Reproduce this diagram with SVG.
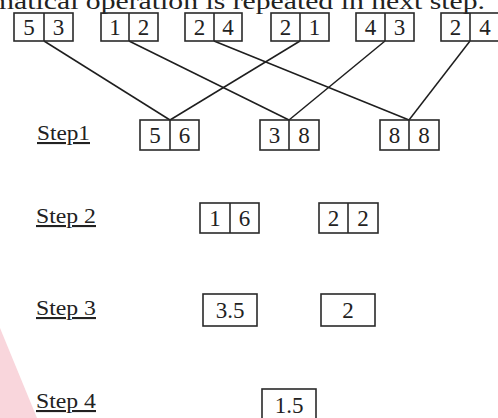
<svg xmlns="http://www.w3.org/2000/svg" width="498" height="418" viewBox="0 0 498 418">
<style>
.bx{fill:none;stroke:#2a2a2a;stroke-width:1.6}
.ln{stroke:#1e1e1e;stroke-width:1.5;fill:none}
.t{font-family:"Liberation Serif","DejaVu Serif",serif;font-size:23px;fill:#222;text-anchor:middle}
.lb{font-family:"Liberation Serif","DejaVu Serif",serif;font-size:21px;fill:#222;text-decoration:underline}
</style>
<rect width="498" height="418" fill="#ffffff"/>
<polygon points="0,328 37,418 0,418" fill="#f9d6dc"/>
<text x="-9" y="9" font-family="Liberation Serif, DejaVu Serif, serif" font-size="23" fill="#222" textLength="494" lengthAdjust="spacingAndGlyphs">matical operation is repeated in next step.</text>
<g id="connectors">
<line class="ln" x1="44" y1="41" x2="170" y2="120"/>
<line class="ln" x1="300" y1="41" x2="170" y2="120"/>
<line class="ln" x1="129" y1="41" x2="289" y2="120"/>
<line class="ln" x1="385" y1="41" x2="289" y2="120"/>
<line class="ln" x1="214" y1="41" x2="409" y2="120"/>
<line class="ln" x1="470" y1="41" x2="409" y2="120"/>
</g>
<g id="n53"><rect class="bx" x="14" y="13" width="59" height="28"/><line class="bx" x1="44" y1="13" x2="44" y2="41"/><text class="t" x="29" y="35">5</text><text class="t" x="58.5" y="35">3</text></g>
<g id="n12"><rect class="bx" x="101" y="13" width="57" height="28"/><line class="bx" x1="129" y1="13" x2="129" y2="41"/><text class="t" x="115" y="35">1</text><text class="t" x="143.5" y="35">2</text></g>
<g id="n24a"><rect class="bx" x="185" y="13" width="57" height="28"/><line class="bx" x1="214" y1="13" x2="214" y2="41"/><text class="t" x="199.5" y="35">2</text><text class="t" x="228" y="35">4</text></g>
<g id="n21"><rect class="bx" x="271" y="13" width="58" height="28"/><line class="bx" x1="300" y1="13" x2="300" y2="41"/><text class="t" x="285.5" y="35">2</text><text class="t" x="314.5" y="35">1</text></g>
<g id="n43"><rect class="bx" x="356" y="13" width="58" height="28"/><line class="bx" x1="385" y1="13" x2="385" y2="41"/><text class="t" x="370.5" y="35">4</text><text class="t" x="399.5" y="35">3</text></g>
<g id="n24b"><rect class="bx" x="441" y="13" width="60" height="28" stroke-width="2"/><line class="bx" x1="470" y1="13" x2="470" y2="41" stroke-width="2"/><text class="t" x="455.5" y="35">2</text><text class="t" x="485" y="35">4</text></g>
<g id="step1"><text class="lb" x="37" y="140" textLength="53" lengthAdjust="spacingAndGlyphs">Step1</text></g>
<g id="n56"><rect class="bx" x="140" y="120" width="59" height="30"/><line class="bx" x1="170" y1="120" x2="170" y2="150"/><text class="t" x="155" y="143">5</text><text class="t" x="184.5" y="143">6</text></g>
<g id="n38"><rect class="bx" x="260" y="120" width="59" height="30"/><line class="bx" x1="289" y1="120" x2="289" y2="150"/><text class="t" x="274.5" y="143">3</text><text class="t" x="304" y="143">8</text></g>
<g id="n88"><rect class="bx" x="380" y="120" width="59" height="30"/><line class="bx" x1="409" y1="120" x2="409" y2="150"/><text class="t" x="394.5" y="143">8</text><text class="t" x="424" y="143">8</text></g>
<g id="step2"><text class="lb" x="36" y="223" textLength="60" lengthAdjust="spacingAndGlyphs">Step 2</text></g>
<g id="n16"><rect class="bx" x="200" y="203" width="59" height="30"/><line class="bx" x1="230" y1="203" x2="230" y2="233"/><text class="t" x="215" y="226">1</text><text class="t" x="244.5" y="226">6</text></g>
<g id="n22"><rect class="bx" x="319" y="203" width="59" height="30"/><line class="bx" x1="348" y1="203" x2="348" y2="233"/><text class="t" x="333.5" y="226">2</text><text class="t" x="363" y="226">2</text></g>
<g id="step3"><text class="lb" x="36" y="315" textLength="60" lengthAdjust="spacingAndGlyphs">Step 3</text></g>
<g id="n35"><rect class="bx" x="203" y="294" width="54" height="32"/><text class="t" x="230" y="318">3.5</text></g>
<g id="n2"><rect class="bx" x="321" y="294" width="54" height="32"/><text class="t" x="348" y="318">2</text></g>
<g id="step4"><text class="lb" x="36" y="408" textLength="60" lengthAdjust="spacingAndGlyphs">Step 4</text></g>
<g id="n15"><rect class="bx" x="262" y="389" width="54" height="34"/><text class="t" x="289" y="413">1.5</text></g>
</svg>
